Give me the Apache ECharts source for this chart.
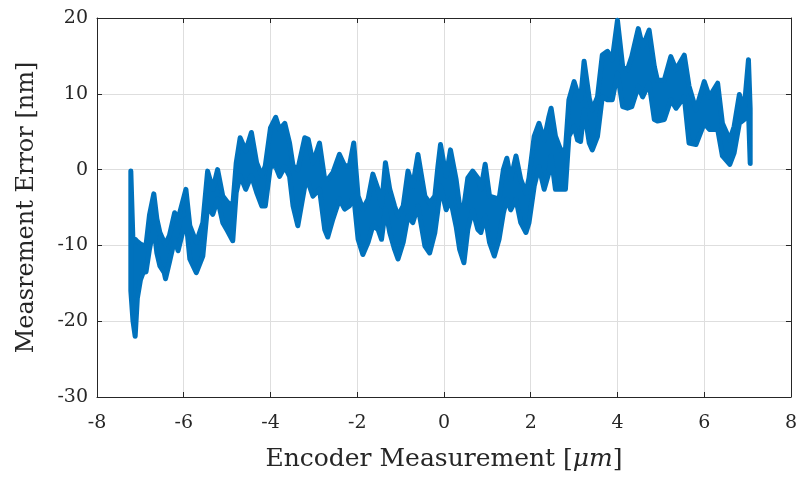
<!DOCTYPE html>
<html>
<head>
<meta charset="utf-8">
<script src="https://cdn.jsdelivr.net/npm/echarts@6/dist/echarts.min.js"></script>
<style>html,body{margin:0;padding:0;background:#fff}#c{width:800px;height:477px}</style>
</head>
<body>
<div id="c"></div>
<script>
// Encoder position [um]
const xPos = [-7.22,-7.17,-7.12,-7.07,-7.0,-6.93,-6.87,-6.79,-6.69,-6.62,-6.55,-6.45,-6.42,-6.33,-6.21,-6.13,-5.95,-5.86,-5.71,-5.56,-5.45,-5.33,-5.22,-5.1,-4.99,-4.87,-4.79,-4.70,-4.57,-4.44,-4.32,-4.20,-4.12,-4.0,-3.88,-3.79,-3.67,-3.56,-3.48,-3.37,-3.21,-3.13,-3.02,-2.87,-2.75,-2.68,-2.56,-2.41,-2.29,-2.18,-2.08,-1.98,-1.87,-1.75,-1.64,-1.52,-1.44,-1.35,-1.25,-1.14,-1.06,-0.94,-0.83,-0.72,-0.6,-0.44,-0.33,-0.21,-0.14,-0.08,0.05,0.15,0.28,0.36,0.46,0.55,0.66,0.78,0.85,0.95,1.05,1.16,1.27,1.37,1.45,1.54,1.66,1.77,1.89,1.96,2.08,2.19,2.31,2.42,2.47,2.57,2.69,2.8,2.88,3.0,3.08,3.15,3.23,3.35,3.42,3.54,3.65,3.77,3.88,4.0,4.12,4.23,4.33,4.48,4.58,4.73,4.85,4.92,5.08,5.23,5.35,5.54,5.65,5.81,6.0,6.12,6.31,6.42,6.59,6.69,6.81,6.92,7.02,7.06];
// Upper envelope of measurement error [nm]
const errUpper = [-0.2,-9.5,-9.2,-9.5,-9.8,-10,-10,-6.0,-3.2,-6.5,-8.3,-9.6,-9.8,-8.7,-5.7,-6.5,-2.6,-7.4,-9.6,-7.0,-0.2,-2.6,0.0,-3.5,-4.3,-4.8,0.9,4.2,2.5,4.9,0.9,-0.8,0.5,5.5,6.9,5.3,6.1,3.5,0.5,0.0,4.2,4.0,0.9,3.5,-1.3,-1.3,-0.4,2.0,0.5,0.5,3.5,-3.5,-5.2,-3.9,-0.6,-2.6,-4.8,0.9,-2.6,-4.8,-6.1,-4.8,-0.2,-2.2,2.0,-3.5,-4.4,-3.5,0.4,3.3,-0.9,2.6,-1.3,-4.8,-4.8,-1.1,-0.2,-1.1,-2.6,0.7,-3.5,-3.7,-3.9,0.0,1.5,-1.3,1.8,-1.3,-3.1,-1.1,4.4,6.1,3.9,7.0,8.1,4.4,2.6,2.6,9.2,11.6,10.1,9.2,14.3,9.4,7.9,9.6,15.1,15.6,14.5,19.7,13.6,13.2,14.9,18.6,16.2,18.4,13.6,11.8,11.8,14.9,13.2,15.1,11.0,7.9,11.6,9.6,11.4,6.1,3.9,5.7,9.9,7.9,14.5,8.0];
// Lower envelope of measurement error [nm]
const errLower = [-16,-20,-22,-17,-14.6,-13.5,-13.5,-10.5,-7.5,-11.0,-12.7,-13.6,-14.4,-12.2,-9.2,-10.7,-6.5,-11.8,-13.6,-11.4,-4.8,-5.9,-3.9,-7.0,-8.1,-9.4,-3.0,-0.8,-2.6,-0.8,-3.0,-4.8,-4.8,0.5,0.4,-0.9,0.4,-0.9,-4.8,-7.4,-2.2,-1.7,-3.5,-2.6,-7.9,-8.9,-6.5,-3.9,-5.2,-4.8,-3.5,-9.2,-11.2,-9.6,-7.4,-7.9,-9.2,-5.2,-8.3,-10.5,-11.8,-9.6,-6.1,-7.0,-4.8,-10.1,-11.0,-8.3,-5.3,-2.2,-5.3,-3.9,-7.5,-10.5,-12.3,-7.9,-5.3,-7.9,-8.3,-6.1,-9.6,-11.4,-9.2,-5.7,-3.9,-5.3,-3.9,-7.0,-8.3,-7.0,-2.2,0.4,-2.6,-0.4,1.8,-2.6,-2.6,-2.6,4.4,5.7,3.9,3.7,7.9,3.5,2.6,4.4,9.6,9.2,9.2,12.7,8.3,8.1,8.3,11.0,9.6,11.4,6.6,6.4,6.6,9.2,8.1,9.6,3.5,3.3,6.1,5.3,5.3,1.8,0.7,2.2,6.1,6.6,7.9,0.8];
const xTicks = [-8,-6,-4,-2,0,2,4,6,8];
const yTicks = [-30,-20,-10,0,10,20];

const BLUE = '#0072BD';
const FONT = 'DejaVu Serif';
const TXT = '#262626';

const chart = echarts.init(document.getElementById('c'), null, {renderer:'canvas'});
function axisCommon(extra){
  return Object.assign({
    axisLine:{show:true,onZero:false,lineStyle:{color:TXT,width:1}},
    axisTick:{show:true,inside:true,length:5,lineStyle:{color:TXT}},
    splitLine:{show:false}
  }, extra);
}
function renderBand(params, api){
  const pts = [];
  for (let i=0;i<xPos.length;i++) pts.push(api.coord([xPos[i], errUpper[i]]));
  for (let i=xPos.length-1;i>=0;i--) pts.push(api.coord([xPos[i], errLower[i]]));
  return {type:'polygon',shape:{points:pts},
    style:{fill:BLUE,stroke:BLUE,lineWidth:5,lineJoin:'round'}};
}
chart.setOption({
  animation:false,
  backgroundColor:'#fff',
  grid:{left:97,right:8,top:18,bottom:79,containLabel:false},
  xAxis:[
    axisCommon({type:'value',min:-8,max:8,interval:2,position:'bottom',
      name:'Encoder Measurement [{i|μm}]',nameLocation:'middle',nameGap:50,
      nameTextStyle:{fontFamily:FONT,fontSize:25,color:TXT,
        rich:{i:{fontFamily:FONT,fontStyle:'italic',fontSize:25,color:TXT}}},
      axisLabel:{fontFamily:FONT,fontSize:19,color:TXT,margin:17,
        formatter:v=>xTicks.includes(v)?String(v):''},
      splitLine:{show:true,lineStyle:{color:'#dedede',width:1}}}),
    axisCommon({type:'value',min:-8,max:8,interval:2,position:'top',axisLabel:{show:false}})
  ],
  yAxis:[
    axisCommon({type:'value',min:-30,max:20,interval:10,position:'left',
      name:'Measrement Error [nm]',nameLocation:'middle',nameGap:58,
      nameTextStyle:{fontFamily:FONT,fontSize:24,color:TXT},
      axisLabel:{fontFamily:FONT,fontSize:19,color:TXT,margin:9,
        formatter:v=>yTicks.includes(v)?String(v):''},
      splitLine:{show:true,lineStyle:{color:'#dedede',width:1}}}),
    axisCommon({type:'value',min:-30,max:20,interval:10,position:'right',axisLabel:{show:false}})
  ],
  series:[
    {type:'custom',renderItem:renderBand,data:[[0,0]],z:3,silent:true}
  ]
});
</script>
</body>
</html>
